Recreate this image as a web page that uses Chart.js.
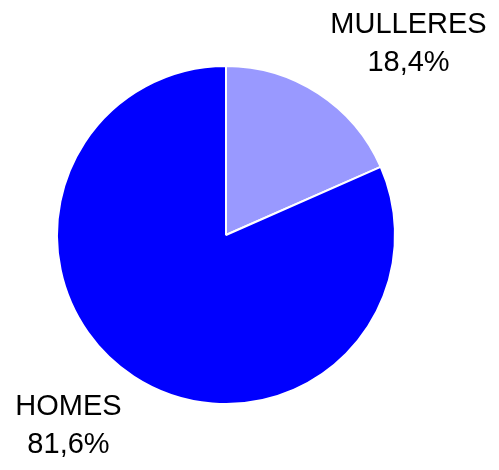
<!DOCTYPE html>
<html>
<head>
<meta charset="utf-8">
<script src="https://cdn.jsdelivr.net/npm/chart.js@4/dist/chart.umd.min.js"></script>
<style>
  html, body { margin: 0; padding: 0; background: #fff; }
  #wrap { width: 499px; height: 470px; }
</style>
</head>
<body>
<div id="wrap"><canvas id="pieChart"></canvas></div>
<script>
const categories = ['MULLERES', 'HOMES'];
const shares = [18.4, 81.6];
const sliceColors = ['#9999FF', '#0000FF'];

// outside labels, anchored next to each slice's mid-arc point
const outsideLabels = {
    id: 'outsideLabels',
    afterDraw(chart) {
        const c = chart.ctx;
        const meta = chart.getDatasetMeta(0);
        c.save();
        c.font = '29px "Liberation Sans", Arial, sans-serif';
        c.fillStyle = '#000';
        c.textAlign = 'center';
        c.textBaseline = 'middle';
        const lineH = 38;
        meta.data.forEach((arc, i) => {
            const mid = (arc.startAngle + arc.endAngle) / 2;
            const ex = arc.x + Math.cos(mid) * arc.outerRadius;
            const ey = arc.y + Math.sin(mid) * arc.outerRadius;
            const lines = [categories[i], shares[i].toFixed(1).replace('.', ',') + '%'];
            const w = Math.max(...lines.map(t => c.measureText(t).width));
            const h = lines.length * lineH;
            const sx = Math.sign(Math.cos(mid)), sy = Math.sign(Math.sin(mid));
            const cx = ex + sx * (w / 2 + 12);
            const cy = ey + sy * (h / 2 + 11);
            lines.forEach((t, k) => {
                c.fillText(t, cx, cy - h / 2 + lineH / 2 + k * lineH);
            });
        });
        c.restore();
    }
};

const ctx = document.getElementById('pieChart').getContext('2d');
const pieChart = new Chart(ctx, {
    type: 'pie',
    data: {
        labels: categories,
        datasets: [{
            data: shares,
            backgroundColor: sliceColors,
            borderColor: '#ffffff',
            borderWidth: 2
        }]
    },
    options: {
        responsive: true,
        maintainAspectRatio: false,
        animation: false,
        layout: { padding: { left: 56, right: 103, top: 65, bottom: 65 } },
        plugins: {
            legend: { display: false },
            tooltip: { enabled: false }
        }
    },
    plugins: [outsideLabels]
});
</script>
</body>
</html>
